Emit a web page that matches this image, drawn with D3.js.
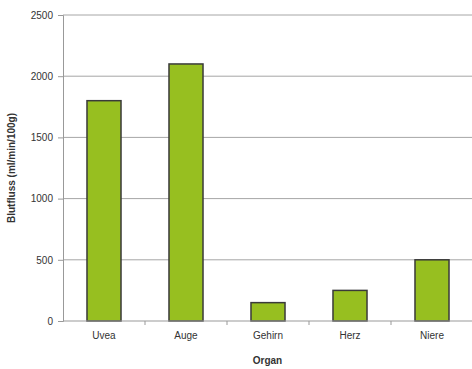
<!DOCTYPE html>
<html>
<head>
<meta charset="utf-8">
<script src="https://cdn.jsdelivr.net/npm/d3@7"></script>
<style>
  body { margin: 0; background: #fff; }
  text { font-family: "Liberation Sans", Arial, sans-serif; }
</style>
</head>
<body>
<script>
// data
var organs = ["Uvea", "Auge", "Gehirn", "Herz", "Niere"];
var flow = [1800, 2100, 150, 250, 500];
var yTicks = [0, 500, 1000, 1500, 2000, 2500];

var W = 472, H = 369;
var margin = {top: 15, right: -1, bottom: 48, left: 63};

var svg = d3.select("body").append("svg")
    .attr("width", W)
    .attr("height", H);

var x = d3.scaleBand()
    .domain(organs)
    .range([margin.left, W - margin.right])
    .paddingInner(0.585)
    .paddingOuter(0.2925);

var y = d3.scaleLinear()
    .domain([0, 2500])
    .range([H - margin.bottom, margin.top]);

// gridlines
svg.append("g")
  .selectAll("line")
  .data(yTicks.slice(1))
  .enter().append("line")
    .attr("x1", margin.left)
    .attr("x2", W)
    .attr("y1", function(d) { return y(d); })
    .attr("y2", function(d) { return y(d); })
    .attr("stroke", "#a6a6a6")
    .attr("stroke-width", 1);

// y axis
var yAxis = svg.append("g")
    .attr("transform", "translate(" + margin.left + ",0)")
    .call(d3.axisLeft(y).tickValues(yTicks).tickFormat(d3.format("d")).tickSize(5).tickPadding(5));
yAxis.select(".domain").attr("stroke", "#999");
yAxis.selectAll(".tick line").attr("stroke", "#999");
yAxis.selectAll("text")
    .attr("fill", "#333")
    .style("font-size", "10px");

// bars
svg.append("g")
  .selectAll("rect")
  .data(organs)
  .enter().append("rect")
    .attr("x", function(d) { return x(d); })
    .attr("y", function(d, i) { return y(flow[i]); })
    .attr("width", x.bandwidth())
    .attr("height", function(d, i) { return y(0) - y(flow[i]); })
    .attr("fill", "#97bf20")
    .attr("stroke", "#3a3a3a")
    .attr("stroke-width", 1.5);

// x axis (ticks between categories)
var gap = x.step() - x.bandwidth();
var xAxis = svg.append("g")
    .attr("transform", "translate(0," + y(0) + ")");
xAxis.append("line")
    .attr("x1", margin.left)
    .attr("x2", W)
    .attr("stroke", "#999");
xAxis.selectAll(".sep")
  .data(organs.slice(1))
  .enter().append("line")
    .attr("class", "sep")
    .attr("x1", function(d) { return x(d) - gap / 2; })
    .attr("x2", function(d) { return x(d) - gap / 2; })
    .attr("y1", 0)
    .attr("y2", 4)
    .attr("stroke", "#999");
xAxis.selectAll(".lbl")
  .data(organs)
  .enter().append("text")
    .attr("class", "lbl")
    .attr("x", function(d) { return x(d) + x.bandwidth() / 2; })
    .attr("y", 18)
    .attr("text-anchor", "middle")
    .attr("fill", "#333")
    .style("font-size", "10px")
    .text(function(d) { return d; });

// axis titles
svg.append("text")
    .attr("x", margin.left + (W - margin.left) / 2)
    .attr("y", 364)
    .attr("text-anchor", "middle")
    .attr("fill", "#333")
    .style("font-size", "10px")
    .style("font-weight", "bold")
    .text("Organ");

svg.append("text")
    .attr("transform", "translate(15," + (margin.top + (y(0) - margin.top) / 2) + ") rotate(-90)")
    .attr("text-anchor", "middle")
    .attr("fill", "#333")
    .style("font-size", "10px")
    .style("font-weight", "bold")
    .text("Blutfluss (ml/min/100g)");
</script>
</body>
</html>
